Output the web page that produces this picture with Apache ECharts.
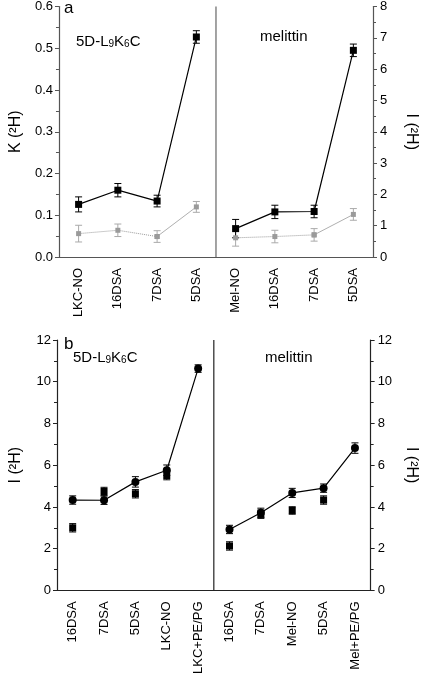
<!DOCTYPE html>
<html><head><meta charset="utf-8">
<script src="https://cdn.jsdelivr.net/npm/echarts@6/dist/echarts.min.js"></script>
<style>html,body{margin:0;padding:0;background:#fff}#c{width:427px;height:677px}</style>
</head><body><div id="c"></div>
<script>
// ---------- Panel a ----------
const catsA_L = ['LKC-NO','16DSA','7DSA','5DSA'];
const catsA_R = ['Mel-NO','16DSA','7DSA','5DSA'];
const kBlackL = [0.126, 0.160, 0.134, 0.527];
const eBlackL = [0.018, 0.016, 0.014, 0.015];
const kGrayL  = [0.056, 0.064, 0.049, 0.120];
const eGrayL  = [0.020, 0.015, 0.014, 0.013];
const kBlackR = [0.068, 0.108, 0.109, 0.495];
const eBlackR = [0.022, 0.016, 0.015, 0.015];
const kGrayR  = [0.046, 0.049, 0.053, 0.102];
const eGrayR  = [0.020, 0.015, 0.015, 0.014];
const ticksAL = [0, 0.6, 0.1];
const ticksAR = [0, 8, 1];
// ---------- Panel b ----------
const catsB_L = ['16DSA','7DSA','5DSA','LKC-NO','LKC+PE/PG'];
const catsB_R = ['16DSA','7DSA','Mel-NO','5DSA','Mel+PE/PG'];
const circB_L = [4.33, 4.32, 5.20, 5.76, 10.63];
const eCircB_L = [0.20, 0.20, 0.25, 0.25, 0.18];
const sqB_L   = [3.00, 4.74, 4.63, 5.50, '-'];
const eSqB_L  = [0.20, 0.20, 0.20, 0.20, 0];
const circB_R = [2.92, 3.72, 4.67, 4.90, 6.82];
const eCircB_R = [0.20, 0.22, 0.22, 0.20, 0.25];
const sqB_R   = [2.13, 3.65, 3.83, 4.33, '-'];
const eSqB_R  = [0.20, 0.20, 0.18, 0.20, 0];
const ticksB = [0, 12, 2];

const FONT = '"Liberation Sans", Arial, sans-serif';
const catsA = catsA_L.concat(catsA_R);
const catsB = catsB_L.concat(catsB_R);

function pts(arr, off){ return arr.map((v,i)=> v==='-' ? [i+off, '-'] : [i+off, v]); }
function part(arr, off, from, to){ return arr.map((v,i)=> (i>=from && i<=to) ? [i+off, v] : [i+off, '-']); }

function errSeries(gi, vals, errs, off, color){
  return {
    type:'custom', xAxisIndex: gi*2, yAxisIndex: gi*2, silent:true, z:2,
    encode:{x:0, y:1},
    data: vals.map((v,i)=> v==='-' ? null : [i+off, v, errs[i]]).filter(Boolean),
    renderItem(params, api){
      const x = api.value(0), y = api.value(1), e = api.value(2);
      const t = api.coord([x, y+e]), b = api.coord([x, y-e]);
      const w = 3.5;
      const st = {stroke: color, lineWidth: 1};
      return {type:'group', children:[
        {type:'line', shape:{x1:t[0], y1:t[1], x2:b[0], y2:b[1]}, style: st},
        {type:'line', shape:{x1:t[0]-w, y1:t[1], x2:t[0]+w, y2:t[1]}, style: st},
        {type:'line', shape:{x1:b[0]-w, y1:b[1], x2:b[0]+w, y2:b[1]}, style: st}
      ]};
    }
  };
}
function divider(gi, n, color){
  return {
    type:'custom', xAxisIndex: gi*2, yAxisIndex: gi*2, silent:true, z:1,
    data: [[n, 0]],
    renderItem(params, api){
      const n = api.value(0);
      const p1 = api.coord([n-1, 0]), p2 = api.coord([n, 0]);
      const x = (p1[0]+p2[0])/2;
      const cs = params.coordSys;
      return {type:'line', shape:{x1:x, y1:cs.y, x2:x, y2:cs.y+cs.height}, style:{stroke:color, lineWidth:1.2}};
    }
  };
}
function lineS(gi, data, color, size, symbol, type, width, showLine){
  return {
    type:'line', xAxisIndex: gi*2, yAxisIndex: gi*2, data,
    symbol, symbolSize: size, z:3,
    itemStyle:{color},
    lineStyle: showLine===false ? {opacity:0} : {color, width, type},
    connectNulls:false, animation:false
  };
}

function xAxes(gi, cats, color){
  return [
    {type:'category', gridIndex:gi, data:cats, boundaryGap:true, position:'bottom',
     axisLine:{lineStyle:{color, width:1.2}},
     axisTick:{alignWithLabel:true, interval:0, length:4, lineStyle:{color}},
     axisLabel:{interval:0, rotate:90, margin:11, fontSize:13, color:'#000', fontFamily:FONT},
     splitLine:{show:false}},
    {type:'category', gridIndex:gi, data:cats, boundaryGap:true, position:'bottom',
     axisLine:{show:false},
     axisTick:{interval:0, length:4, lineStyle:{color}},
     axisLabel:{show:false}, splitLine:{show:false}}
  ];
}
function yAxes(gi, tl, tr, nameL, nameR, color, fmtL){
  return [
    {type:'value', gridIndex:gi, position:'left', min:tl[0], max:tl[1], interval:tl[2],
     name:nameL, nameLocation:'middle', nameGap:33, nameRotate:90,
     nameTextStyle:{fontSize:16, fontFamily:FONT, color:'#000'},
     axisLine:{show:true, lineStyle:{color, width:1.2}},
     axisTick:{show:true, length:4, lineStyle:{color}},
     minorTick:{show:true, splitNumber:2, length:3, lineStyle:{color}},
     axisLabel:{fontSize:13, margin:6, color:'#000', fontFamily:FONT, formatter:fmtL},
     splitLine:{show:false}, minorSplitLine:{show:false}},
    {type:'value', gridIndex:gi, position:'right', min:tr[0], max:tr[1], interval:tr[2],
     name:nameR, nameLocation:'middle', nameGap:30, nameRotate:-90,
     nameTextStyle:{fontSize:16, fontFamily:FONT, color:'#000'},
     axisLine:{show:true, lineStyle:{color, width:1.2}},
     axisTick:{show:true, length:4, lineStyle:{color}},
     minorTick:{show:true, splitNumber:2, length:3, lineStyle:{color}},
     axisLabel:{fontSize:13, margin:7, color:'#000', fontFamily:FONT},
     splitLine:{show:false}, minorSplitLine:{show:false}}
  ];
}

const cA = '#555', cB = '#222', gray = '#9a9a9a';
const nL = catsA_L.length, nBL = catsB_L.length;

const series = [
  divider(0, nL, '#666'),
  divider(1, nBL, '#222'),
  // panel a
  errSeries(0, kGrayL, eGrayL, 0, '#aaa'),
  errSeries(0, kGrayR, eGrayR, nL, '#aaa'),
  lineS(0, part(kGrayL, 0, 0, 2), gray, 5, 'rect', 'dotted', 1, true),
  lineS(0, part(kGrayL, 0, 2, 3), gray, 5, 'rect', 'solid', 0.8, true),
  lineS(0, part(kGrayR, nL, 0, 2), gray, 5, 'rect', 'dotted', 1, true),
  lineS(0, part(kGrayR, nL, 2, 3), gray, 5, 'rect', 'solid', 0.8, true),
  errSeries(0, kBlackL, eBlackL, 0, '#000'),
  errSeries(0, kBlackR, eBlackR, nL, '#000'),
  lineS(0, pts(kBlackL, 0), '#000', 7, 'rect', 'solid', 1.2, true),
  lineS(0, pts(kBlackR, nL), '#000', 7, 'rect', 'solid', 1.2, true),
  // panel b
  errSeries(1, sqB_L, eSqB_L, 0, '#000'),
  errSeries(1, sqB_R, eSqB_R, nBL, '#000'),
  lineS(1, pts(sqB_L, 0), '#000', 7, 'rect', 'solid', 1, false),
  lineS(1, pts(sqB_R, nBL), '#000', 7, 'rect', 'solid', 1, false),
  errSeries(1, circB_L, eCircB_L, 0, '#000'),
  errSeries(1, circB_R, eCircB_R, nBL, '#000'),
  lineS(1, pts(circB_L, 0), '#000', 8, 'circle', 'solid', 1.2, true),
  lineS(1, pts(circB_R, nBL), '#000', 8, 'circle', 'solid', 1.2, true)
];

const rich = {
  a:{fontSize:15, fontFamily:FONT, color:'#000', lineHeight:18, verticalAlign:'bottom'},
  s:{fontSize:10, fontFamily:FONT, color:'#000', lineHeight:8, verticalAlign:'bottom'}
};
const pep = '{a|5D-L}{s|9}{a|K}{s|6}{a|C}';
function txt(x, y, text, size, useRich){
  const style = {x, y, text, fill:'#000', font: size+'px '+FONT, textVerticalAlign:'middle'};
  if (useRich) style.rich = rich;
  return {type:'text', left:x, top:y, style, z:10};
}

const option = {
  animation:false,
  backgroundColor:'#fff',
  grid:[
    {left:55, right:52, top:6, height:251, containLabel:false},
    {left:55, right:52, top:340, height:257, containLabel:false}
  ],
  xAxis: xAxes(0, catsA, cA).concat(xAxes(1, catsB, cB)),
  yAxis: yAxes(0, ticksAL, ticksAR, 'K (²H)', 'I (²H)', cA, v=>v.toFixed(1))
         .concat(yAxes(1, ticksB, ticksB, 'I (²H)', 'I (²H)', cB, v=>String(v))),
  graphic:[
    txt(64, 0, 'a', 17, false),
    txt(76, 34, pep, 15, true),
    txt(260, 29, 'melittin', 15, false),
    txt(64, 336, 'b', 17, false),
    txt(73, 350, pep, 15, true),
    txt(265, 350, 'melittin', 15, false)
  ],
  series
};
const chart = echarts.init(document.getElementById('c'), null, {renderer:'canvas'});
chart.setOption(option);
</script></body></html>
